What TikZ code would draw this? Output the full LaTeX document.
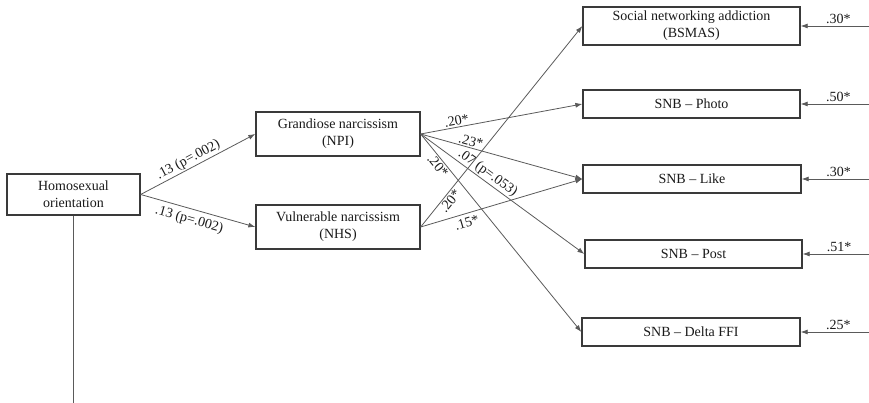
\documentclass[tikz,border=0pt]{standalone}
\usepackage{fontspec}
\setmainfont{Liberation Serif}
\usetikzlibrary{arrows.meta}
\definecolor{Edge}{HTML}{5A5A5A}
\definecolor{Frame}{HTML}{3A3A3A}
\definecolor{Txt}{HTML}{1A1A1A}

\begin{document}
\begin{tikzpicture}[x=1pt,y=1pt,
  var/.style={draw=Frame,line width=1.3pt,fill=white,align=center,inner sep=0pt,text=Txt,font=\fontsize{14}{17}\selectfont},
  link/.style={draw=Edge,line width=.8pt,-{Latex[length=7pt,width=5pt]}},
  coef/.style={font=\fontsize{14}{16}\selectfont,text=Txt,inner sep=1.5pt}]
  \useasboundingbox (0,0) rectangle (869,403);
  \node[var,minimum width=133pt,minimum height=41pt] (homo) at (73.5,208.5) {Homosexual\\orientation};
  \node[var,minimum width=164pt,minimum height=44pt] (grand) at (338,269) {Grandiose narcissism\\(NPI)};
  \node[var,minimum width=164pt,minimum height=44pt] (vuln) at (338,176) {Vulnerable narcissism\\(NHS)};
  \node[var,minimum width=217pt,minimum height=38pt] (bsmas) at (691.5,377) {Social networking addiction\\(BSMAS)};
  \node[var,minimum width=217pt,minimum height=28pt] (photo) at (691.5,299) {SNB -- Photo};
  \node[var,minimum width=218pt,minimum height=28pt] (like) at (692,224) {SNB -- Like};
  \node[var,minimum width=217pt,minimum height=28pt] (post) at (693.5,149) {SNB -- Post};
  \node[var,minimum width=218pt,minimum height=28pt] (delta) at (691,71) {SNB -- Delta FFI};
  \coordinate (hbot) at (73.5,0);
  \draw[draw=Edge,line width=.8pt] (homo.south) -- (hbot);
  \draw[link] (homo.east) -- node[coef,sloped,above,pos=.45]{.13 (p=.002)} (grand.west);
  \draw[link] (homo.east) -- node[coef,sloped,below=3pt,pos=.45]{.13 (p=.002)} (vuln.west);
  \draw[link] (grand.east) -- node[coef,sloped,above,pos=.23]{.20*} (photo.west);
  \draw[link] (grand.east) -- node[coef,sloped,above=0pt,pos=.3]{.23*} (like.west);
  \draw[link] (grand.east) -- node[coef,sloped,above=0pt,pos=.38]{.07 (p=.053)} (post.west);
  \draw[link] (grand.east) -- node[coef,sloped,below,pos=.14]{.20*} (delta.west);
  \draw[link] (vuln.east) -- node[coef,sloped,below,pos=.15]{.20*} (bsmas.west);
  \draw[link] (vuln.east) -- node[coef,sloped,below=2pt,pos=.27]{.15*} (like.west);
  \foreach \n/\v in {bsmas/.30*,photo/.50*,like/.30*,post/.51*,delta/.25*} {
    \coordinate (e\n) at (\n.east -| 869,0);
    \draw[link] (e\n) -- node[coef,above,pos=.45]{\v} (\n.east);
  }
\end{tikzpicture}
\end{document}
